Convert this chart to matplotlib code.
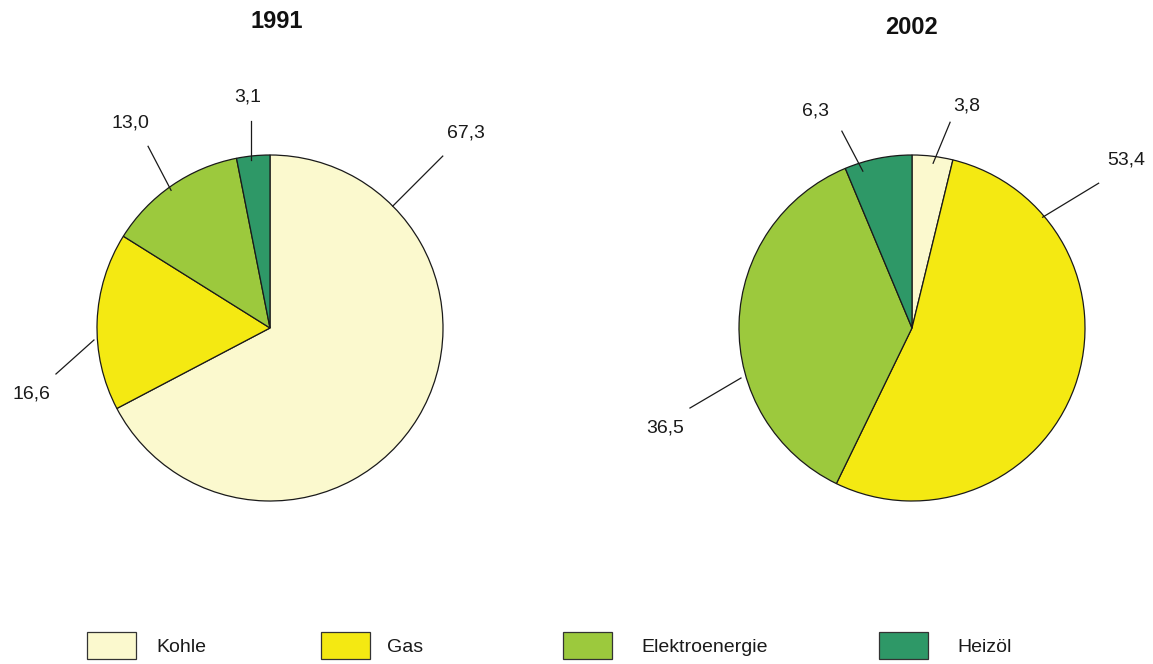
import numpy as np
import matplotlib
matplotlib.use("Agg")
import matplotlib.pyplot as plt
from matplotlib.patches import Rectangle

plt.rcParams['font.family'] = ['Liberation Sans', 'DejaVu Sans']

# ---- data ----
categories = ["Kohle", "Gas", "Elektroenergie", "Heizöl"]
years = ["1991", "2002"]
values_1991 = [67.3, 16.6, 13.0, 3.1]
values_2002 = [3.8, 53.4, 36.5, 6.3]
labels_1991 = ["67,3", "16,6", "13,0", "3,1"]
labels_2002 = ["3,8", "53,4", "36,5", "6,3"]

colors = ["#FBF9CE", "#F4E912", "#9CC93D", "#2E9867"]

# ---- layout (pixel space, y up) ----
W, H = 1153, 664
R = 173
centers = [(270, H - 328), (912, H - 328)]
title_pos = [(277, H - 22), (912, H - 27)]
# leader: start angle (deg), start radius factor, end offset from start (px), label offset from end (px)
leaders = [
    [(44.8, 1.0, (50, 50), (23, 23)),
     (183.9, 1.02, (-38, -34), (-25, -20)),
     (125.7, 0.98, (-23, 44), (-18, 23)),
     (96.5, 0.98, (0, 39), (-3, 24))],
    [(82.7, 0.96, (17, 41), (17, 16)),
     (40.3, 0.99, (56, 34), (28, 23)),
     (196.3, 1.03, (-51, -30), (-25, -20)),
     (107.4, 0.95, (-21, 40), (-26, 20))],
]
legend_x = [87, 321, 563, 879]
legend_text_dx = [69, 66, 78, 78]

fig = plt.figure(figsize=(W / 100, H / 100), dpi=100)
ax = fig.add_axes([0, 0, 1, 1])

all_values = [values_1991, values_2002]
all_labels = [labels_1991, labels_2002]
for i in range(2):
    ax.pie(all_values[i], colors=colors, startangle=90, counterclock=False,
           center=centers[i], radius=R, frame=True,
           wedgeprops=dict(edgecolor="#1a1a1a", linewidth=0.9))
    cx, cy = centers[i]
    ax.text(title_pos[i][0], title_pos[i][1], years[i], ha="center", va="center",
            fontsize=17, fontweight="bold", color="#111111")
    for (ang, rf, (ex, ey), (lx, ly)), lab in zip(leaders[i], all_labels[i]):
        a = np.deg2rad(ang)
        sx, sy = cx + R * rf * np.cos(a), cy + R * rf * np.sin(a)
        ax.plot([sx, sx + ex], [sy, sy + ey], color="#1a1a1a", lw=0.9)
        ax.text(sx + ex + lx, sy + ey + ly, lab, ha="center", va="center",
                fontsize=14, color="#1a1a1a")

# legend
for x, dx, c, name in zip(legend_x, legend_text_dx, colors, categories):
    ax.add_patch(Rectangle((x, H - 659), 49, 27, facecolor=c,
                           edgecolor="#333333", linewidth=0.9))
    ax.text(x + dx, H - 648, name, ha="left", va="center", fontsize=14,
            color="#1a1a1a")

ax.set_xlim(0, W)
ax.set_ylim(0, H)
ax.set_aspect("equal")
ax.axis("off")

fig.savefig("out.png", dpi=100, facecolor="white")
